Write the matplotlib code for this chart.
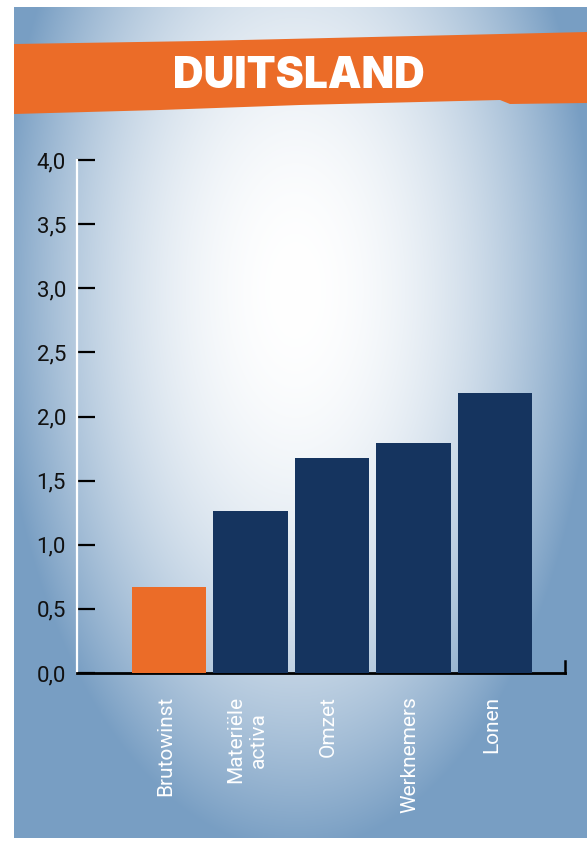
import numpy as np
import matplotlib.pyplot as plt
from matplotlib.patches import Polygon

# data
categories = ["Brutowinst", "Materiële\nactiva", "Omzet", "Werknemers", "Lonen"]
values = [0.67, 1.26, 1.68, 1.79, 2.18]
bar_colors = ["#EB6C28", "#15345F", "#15345F", "#15345F", "#15345F"]
yticks = [0.0, 0.5, 1.0, 1.5, 2.0, 2.5, 3.0, 3.5, 4.0]
ytick_labels = ["0,0", "0,5", "1,0", "1,5", "2,0", "2,5", "3,0", "3,5", "4,0"]
title = "DUITSLAND"

W, H = 587, 841
fig = plt.figure(figsize=(W / 100, H / 100), dpi=100)
fig.patch.set_facecolor("white")

# achtergrond met radiale gradient
px0, px1, py0, py1 = 14, 587, 7, 838
bg = fig.add_axes([px0 / W, 1 - py1 / H, (px1 - px0) / W, (py1 - py0) / H])
xx, yy = np.meshgrid(np.arange(px0, px1), np.arange(py0, py1))
d = np.sqrt(((xx - 295) / 300.0) ** 2 + ((yy - 290) / 560.0) ** 2)
t = np.clip(d, 0, 1) ** 2.0
edge = np.array([0x78, 0x9E, 0xC3]) / 255.0
img = (1 - t)[..., None] * np.ones(3) + t[..., None] * edge
bg.imshow(img, aspect="auto", interpolation="bilinear")
bg.axis("off")

# oranje banner
def fp(x, y):
    return (x / W, 1 - y / H)

banner = [fp(14, 44), fp(200, 41), fp(587, 32), fp(587, 103), fp(510, 104),
          fp(500, 100), fp(300, 105), fp(160, 110), fp(14, 114)]
fig.add_artist(Polygon(banner, closed=True, facecolor="#EB6C28", edgecolor="none",
                       transform=fig.transFigure))
fig.text(299 / W, 1 - 77 / H, title, color="white", fontsize=30.5, fontweight="black",
         family="Inter", ha="center", va="center")

# grafiek
ax = fig.add_axes([77 / W, 1 - 673 / H, (565 - 77) / W, (673 - 160) / H])
ax.set_facecolor("none")
x = np.arange(len(categories))
ax.bar(x, values, width=0.91, color=bar_colors, zorder=3)
ax.set_xlim(-1.13, 4.86)
ax.set_ylim(0, 4)
ax.set_yticks(yticks)
ax.set_yticklabels(ytick_labels, family="Roboto", fontsize=16, color="#111111")
ax.tick_params(axis="y", direction="in", length=13, width=1.6, color="black", pad=8)
ax.set_xticks([])
ax.spines["top"].set_visible(False)
ax.spines["left"].set_color("white")
ax.spines["left"].set_linewidth(1.6)
ax.spines["bottom"].set_color("black")
ax.spines["bottom"].set_linewidth(2)
ax.spines["right"].set_color("black")
ax.spines["right"].set_linewidth(1.8)
ax.spines["right"].set_bounds(0, 0.09)

for i, lab in enumerate(categories):
    ax.text(i - 0.04, -0.045, lab, transform=ax.get_xaxis_transform(),
            rotation=90, ha="center", va="top", multialignment="center",
            color="white", fontsize=15, family="Roboto", fontweight="normal",
            linespacing=1.25)

plt.savefig("out.png", dpi=100)
